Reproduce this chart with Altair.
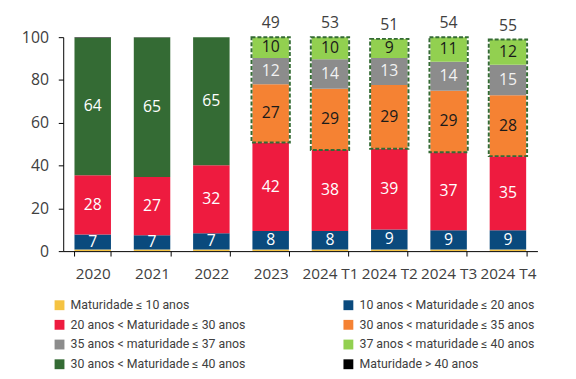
import altair as alt
import pandas as pd

categories = ["2020", "2021", "2022", "2023", "2024 T1", "2024 T2", "2024 T3", "2024 T4"]
series = [
    "Maturidade ≤ 10 anos",
    "10 anos < Maturidade ≤ 20 anos",
    "20 anos < Maturidade ≤ 30 anos",
    "30 anos < maturidade ≤ 35 anos",
    "35 anos < maturidade ≤ 37 anos",
    "37 anos < maturidade ≤ 40 anos",
    "30 anos < Maturidade ≤ 40 anos",
    "Maturidade > 40 anos",
]
colors = ["#F5C342", "#0A4A7D", "#EE1B3F", "#F58233", "#8C8C8C", "#92D050", "#346B34", "#000000"]
label_colors = ["#FFFFFF", "#FFFFFF", "#FFFFFF", "#1A1A1A", "#F2F2F2", "#1A1A1A", "#FFFFFF", "#FFFFFF"]
# legend is filled column by column; this order shows it row by row as in the reference
legend_order = [0, 2, 4, 6, 1, 3, 5, 7]

# segment sizes (percent)
v_le10 = [0.7, 0.7, 0.7, 0.7, 0.7, 0.7, 0.7, 0.7]
v_10_20 = [7.1, 6.7, 7.6, 8.7, 8.7, 9.4, 9.0, 9.0]
v_20_30 = [27.7, 27.2, 31.8, 41.4, 37.9, 37.7, 36.5, 34.7]
v_30_35 = [0, 0, 0, 27.2, 28.6, 29.9, 28.8, 28.4]
v_35_37 = [0, 0, 0, 12.3, 13.8, 12.6, 13.5, 14.3]
v_37_40 = [0, 0, 0, 9.7, 10.3, 8.9, 11.5, 11.8]
v_30_40 = [64.2, 65.2, 59.9, 0, 0, 0, 0, 0]
v_gt40 = [0.3, 0.2, 0, 0, 0, 0, 0, 0]

# printed labels
l_10_20 = ["7", "7", "7", "8", "8", "9", "9", "9"]
l_20_30 = ["28", "27", "32", "42", "38", "39", "37", "35"]
l_30_35 = ["", "", "", "27", "29", "29", "29", "28"]
l_35_37 = ["", "", "", "12", "14", "13", "14", "15"]
l_37_40 = ["", "", "", "10", "10", "9", "11", "12"]
l_30_40 = ["64", "65", "65", "", "", "", "", ""]
totals = ["", "", "", "49", "53", "51", "54", "55"]

values = [v_le10, v_10_20, v_20_30, v_30_35, v_35_37, v_37_40, v_30_40, v_gt40]
labels = [[""] * 8, l_10_20, l_20_30, l_30_35, l_35_37, l_37_40, l_30_40, [""] * 8]

rows, text_rows, box_rows, total_rows = [], [], [], []
for i, cat in enumerate(categories):
    start = 0.0
    box_start = None
    for s, name in enumerate(series):
        v = values[s][i]
        end = start + v
        if v > 0:
            rows.append({"cat": cat, "series": name, "y0": start, "y1": end})
            if labels[s][i]:
                text_rows.append({"cat": cat, "mid": (start + end) / 2, "txt": labels[s][i],
                                  "tc": label_colors[s]})
        if s == 3:
            box_start = start
        if s == 5:
            if end > box_start:
                box_rows.append({"cat": cat, "y0": box_start, "y1": end})
        start = end
    if totals[i]:
        total_rows.append({"cat": cat, "top": start, "txt": totals[i]})

df = pd.DataFrame(rows)
tdf = pd.DataFrame(text_rows)
bdf = pd.DataFrame(box_rows)
tot = pd.DataFrame(total_rows)

FONT = "Open Sans"
LEGEND_FONT = "Roboto"
xscale = alt.Scale(domain=categories, paddingInner=0.385, paddingOuter=0.19)
yscale = alt.Scale(domain=[0, 100], nice=False)

x = alt.X("cat:N", scale=xscale, sort=categories, title=None,
          axis=alt.Axis(labelAngle=0, tickBand="extent", tickSize=5, tickColor="#000000",
                        domainColor="#000000", labelFontSize=15.5, labelColor="#404040",
                        labelFont=FONT, labelPadding=11, grid=False))

leg_domain = [series[k] for k in legend_order]
leg_range = [colors[k] for k in legend_order]

bars = alt.Chart(df).mark_bar().encode(
    x=x,
    y=alt.Y("y0:Q", scale=yscale, title=None,
            axis=alt.Axis(values=[0, 20, 40, 60, 80, 100], domain=True, ticks=True, tickSize=5,
                          tickColor="#000000", domainColor="#000000", grid=False,
                          labelFontSize=16, labelColor="#404040", labelFont=FONT, labelPadding=10)),
    y2="y1:Q",
    color=alt.Color("series:N", scale=alt.Scale(domain=leg_domain, range=leg_range),
                    legend=alt.Legend(orient="none", legendX=-10, legendY=265.5, columns=2,
                                      title=None, symbolType="square", symbolSize=100,
                                      symbolStrokeWidth=0, labelFontSize=12.5, labelFont=LEGEND_FONT,
                                      labelColor="#404040", labelOffset=5, rowPadding=7,
                                      columnPadding=97, labelLimit=400)),
)

boxes = alt.Chart(bdf).mark_bar(fill="transparent", stroke="#346B34", strokeWidth=2,
                                strokeDash=[4, 2], width=alt.RelativeBandSize(1.05)).encode(
    x=alt.X("cat:N", scale=xscale, sort=categories),
    y=alt.Y("y0:Q", scale=yscale),
    y2="y1:Q",
)

texts = alt.Chart(tdf).mark_text(font=FONT, fontSize=16, baseline="middle").encode(
    x=alt.X("cat:N", scale=xscale, sort=categories),
    y=alt.Y("mid:Q", scale=yscale),
    text="txt:N",
    color=alt.Color("tc:N", scale=None),
)

tot_text = alt.Chart(tot).mark_text(font=FONT, fontSize=16, baseline="middle", dy=-14,
                                    color="#404040").encode(
    x=alt.X("cat:N", scale=xscale, sort=categories),
    y=alt.Y("top:Q", scale=yscale),
    text="txt:N",
)

chart = alt.layer(bars, boxes, texts, tot_text).properties(
    width=481, height=217,
    autosize=alt.AutoSizeParams(type="none"),
    padding={"left": 56, "top": 27, "right": 31, "bottom": 119},
).configure_view(stroke=None)

chart.save("out.html", embed_options={"renderer": "svg", "actions": False})
